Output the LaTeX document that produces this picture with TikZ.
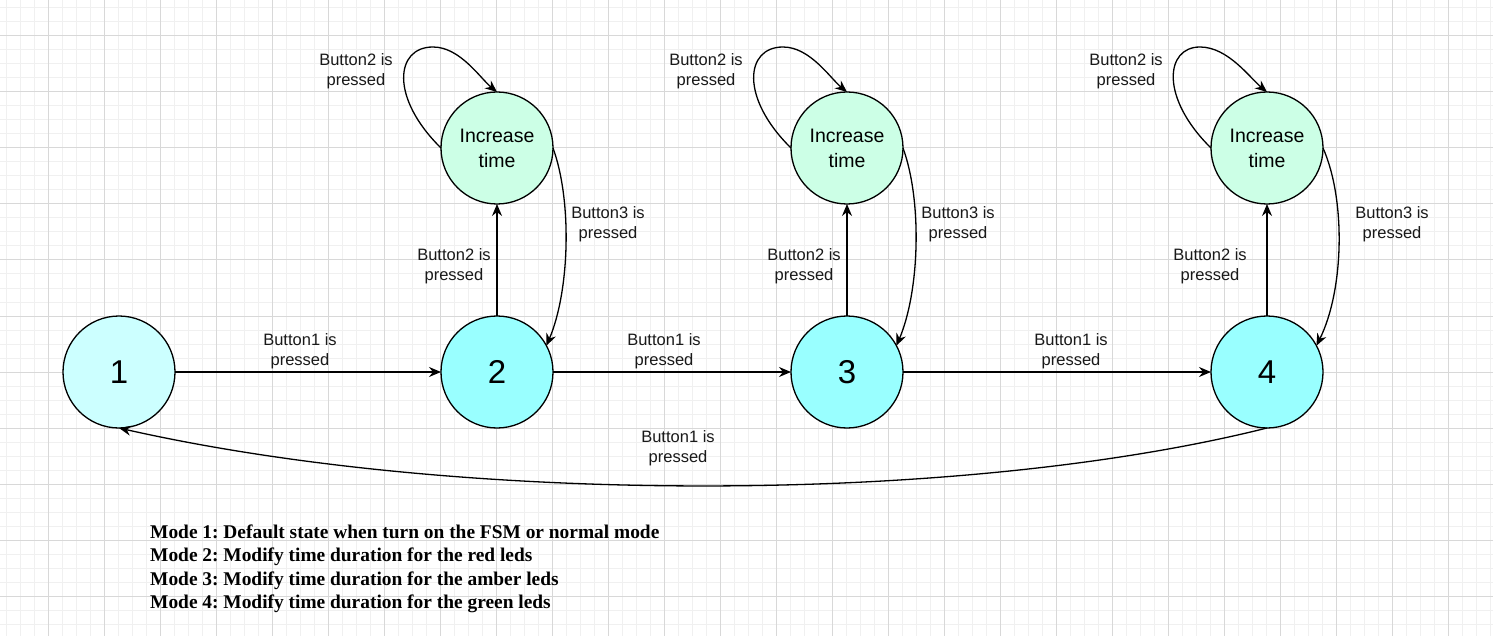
\documentclass[tikz,border=0pt]{standalone}
\usepackage{fontspec}
\setmainfont{Liberation Sans}
\newfontfamily\modefont{Liberation Serif}
\usetikzlibrary{arrows.meta}
\frenchspacing
\definecolor{gridminor}{HTML}{F0F0F0}
\definecolor{gridmajor}{HTML}{D8D8D8}
\definecolor{fillone}{HTML}{CCFFFF}
\definecolor{fillmode}{HTML}{99FFFF}
\definecolor{fillinc}{HTML}{CCFFE6}
\begin{document}
\begin{tikzpicture}[x=1pt,y=-1pt,
  stbase/.style={circle, draw=black, line width=1.3pt, minimum size=112pt, inner sep=0pt, outer sep=0pt, align=center},
  stone/.style={stbase, fill=fillone, font=\fontsize{33}{36}\selectfont},
  stmode/.style={stbase, fill=fillmode, font=\fontsize{33}{36}\selectfont},
  stinc/.style={stbase, fill=fillinc, font=\fontsize{19.5}{25}\selectfont},
  arr/.style={line width=1.3pt, -{Stealth[length=12pt,width=10pt,inset=4pt]}},
  lbl/.style={align=center, inner sep=0pt, font=\fontsize{16.5}{20}\selectfont, text=black!90}
]
\useasboundingbox (0,0) rectangle (1493,636);
\fill[white] (0,0) rectangle (1493,636);
% grid
\foreach \i in {0,...,106} { \draw[gridminor, line width=1pt] ({6.3+14*\i},0) -- ({6.3+14*\i},636); }
\foreach \j in {0,...,44} { \draw[gridminor, line width=1pt] (0,{8+14*\j}) -- (1493,{8+14*\j}); }
\foreach \i in {0,...,25} { \draw[gridmajor, line width=1pt] ({48.3+56*\i},0) -- ({48.3+56*\i},636); }
\foreach \j in {0,...,10} { \draw[gridmajor, line width=1pt] (0,{36+56*\j}) -- (1493,{36+56*\j}); }

% states
\node[stone] (n1) at (119,372) {1};
\node[stmode] (n2) at (497,372) {2};
\node[stmode] (n3) at (847,372) {3};
\node[stmode] (n4) at (1267,372) {4};
\node[stinc] (i1) at (497,148) {Increase\\time};
\node[stinc] (i2) at (847,148) {Increase\\time};
\node[stinc] (i3) at (1267,148) {Increase\\time};

% Button1 chain
\draw[arr] (n1) -- (n2);
\draw[arr] (n2) -- (n3);
\draw[arr] (n3) -- (n4);
\draw[arr] (n4.south) .. controls (960,505) and (460,505) .. (n1.south);
\node[lbl] (l12) at (300,351) {Button1 is\\pressed};
\node[lbl] (l23) at (664,351) {Button1 is\\pressed};
\node[lbl] (l34) at (1071,351) {Button1 is\\pressed};
\node[lbl] (l41) at (678,448) {Button1 is\\pressed};

% up arrows
\draw[arr] (n2) -- (i1);
\draw[arr] (n3) -- (i2);
\draw[arr] (n4) -- (i3);
\node[lbl] (u1) at (454,266) {Button2 is\\pressed};
\node[lbl] (u2) at (804,266) {Button2 is\\pressed};
\node[lbl] (u3) at (1210,266) {Button2 is\\pressed};

% Button3 back arrows
\draw[arr] (i1.east) .. controls (572,200) and (570,290) .. (n2.28);
\draw[arr] (i2.east) .. controls (922,200) and (920,290) .. (n3.28);
\draw[arr] (i3.east) .. controls (1346,200) and (1344,290) .. (n4.28);
\node[lbl] (d1) at (608,224) {Button3 is\\pressed};
\node[lbl] (d2) at (958,224) {Button3 is\\pressed};
\node[lbl] (d3) at (1392,224) {Button3 is\\pressed};

% self loops
\draw[arr] (i1.west) .. controls (390,98) and (395,47) .. (433,47) .. controls (460,47) and (480,78) .. (i1.north);
\draw[arr] (i2.west) .. controls (740,98) and (745,47) .. (783,47) .. controls (810,47) and (830,78) .. (i2.north);
\draw[arr] (i3.west) .. controls (1160,98) and (1165,47) .. (1200,47) .. controls (1228,47) and (1250,78) .. (i3.north);
\node[lbl] (s1) at (356,71) {Button2 is\\pressed};
\node[lbl] (s2) at (706,71) {Button2 is\\pressed};
\node[lbl] (s3) at (1126,71) {Button2 is\\pressed};

% legend
\node[anchor=base west, align=left, inner sep=0pt, font=\modefont\bfseries\fontsize{19.4}{23.3}\selectfont] (legend) at (150,608.3)
{Mode 1: Default state when turn on the FSM or normal mode\\
Mode 2: Modify time duration for the red leds\\
Mode 3: Modify time duration for the amber leds\\
Mode 4: Modify time duration for the green leds};
\end{tikzpicture}
\end{document}
